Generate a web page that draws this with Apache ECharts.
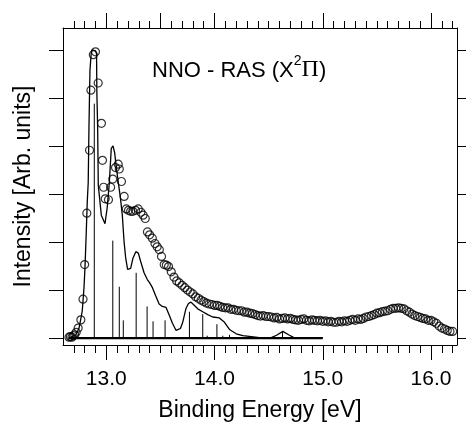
<!DOCTYPE html>
<html><head><meta charset="utf-8">
<script src="https://cdn.jsdelivr.net/npm/echarts@6/dist/echarts.min.js"></script>
<style>html,body{margin:0;padding:0;background:#fff}#c{width:466px;height:427px}</style>
</head><body><div id="c"></div>
<script>
// Experimental data (circles)
const expX = [12.655,12.668,12.682,12.695,12.708,12.722,12.740,12.765,12.785,12.800,12.820,12.845,12.858,12.880,12.900,12.925,12.955,12.965,12.975,12.990,13.020,13.040,13.060,13.085,13.110,13.120,13.140,13.165,13.185,13.205,13.225,13.245,13.270,13.295,13.320,13.340,13.360,13.380,13.400,13.425,13.450,13.470,13.490,13.510,13.535,13.555,
13.575,13.600,13.625,13.650,13.675,13.700,13.725,13.750,13.775,13.800,13.825,13.850,13.875,13.900,13.925,13.950,13.975,14.000,14.025,14.050,14.075,14.100,14.125,14.150,14.175,14.200,14.225,14.250,14.275,14.300,14.325,14.350,14.375,14.400,14.425,14.450,14.475,14.500,14.525,14.550,14.575,14.600,14.625,14.650,14.675,14.700,14.725,14.750,14.775,14.800,14.825,14.850,14.875,14.900,14.925,14.950,14.975,15.000,15.025,15.050,15.075,15.100,15.125,15.150,15.175,15.200,15.225,15.250,15.275,15.300,15.325,15.350,15.375,15.400,15.425,15.450,15.475,15.500,15.525,15.550,15.575,15.600,15.625,15.650,15.675,15.700,15.725,15.750,15.775,15.800,15.825,15.850,15.875,15.900,15.925,15.950,15.975,16.000,16.025,16.050,16.075,16.100,16.125,16.150,16.175,16.200];
const expY = [0.02,0.03,0.02,0.05,0.07,0.12,0.21,0.38,0.81,1.53,2.60,3.91,5.16,5.90,5.96,5.31,4.47,3.70,3.14,2.90,2.88,3.14,3.31,3.55,3.62,3.52,3.26,2.95,2.69,2.66,2.64,2.64,2.66,2.69,2.62,2.56,2.49,2.21,2.15,2.08,1.97,1.90,1.84,1.70,1.53,1.52,
1.49,1.38,1.27,1.19,1.15,1.10,1.05,1.00,0.96,0.92,0.86,0.83,0.79,0.76,0.73,0.71,0.70,0.68,0.68,0.66,0.64,0.63,0.63,0.60,0.60,0.58,0.57,0.57,0.54,0.54,0.52,0.51,0.49,0.47,0.46,0.47,0.45,0.45,0.44,0.42,0.43,0.40,0.41,0.42,0.40,0.41,0.39,0.38,0.37,0.39,0.40,0.37,0.36,0.38,0.37,0.36,0.37,0.35,0.36,0.34,0.35,0.33,0.33,0.35,0.34,0.36,0.35,0.37,0.39,0.37,0.40,0.39,0.41,0.44,0.45,0.47,0.49,0.52,0.53,0.55,0.56,0.57,0.60,0.62,0.62,0.63,0.62,0.61,0.57,0.54,0.50,0.47,0.45,0.43,0.41,0.40,0.37,0.37,0.34,0.31,0.25,0.21,0.19,0.16,0.14,0.14];

// Simulated spectrum (solid line)
const simX = [12.650,12.716,12.747,12.762,12.778,12.794,12.803,12.815,12.824,12.833,12.840,12.849,12.861,12.870,12.901,12.910,12.913,12.920,12.926,12.954,12.988,13.009,13.028,13.046,13.062,13.077,13.093,13.111,13.130,13.148,13.164,13.179,13.197,13.210,13.225,13.247,13.273,13.296,13.317,13.349,13.379,13.401,13.426,13.456,13.488,13.518,13.552,13.583,13.611,13.645,13.661,13.685,13.706,13.735,13.759,13.782,13.805,13.845,13.891,13.937,13.983,14.045,14.092,14.138,14.200,14.261,14.339,14.415,14.524,14.573,14.631,14.684,14.733,15.000];
const simY = [0.00,0.06,0.20,0.37,0.57,1.05,1.46,2.21,2.83,3.24,4.41,5.57,5.94,6.00,5.98,5.91,5.09,4.41,3.18,2.56,2.38,2.73,3.24,3.95,4.00,3.86,3.55,3.24,2.93,2.56,2.01,1.67,1.43,1.41,1.45,1.67,1.80,1.77,1.60,1.36,1.22,1.15,1.05,0.88,0.71,0.66,0.64,0.47,0.31,0.16,0.13,0.20,0.33,0.61,0.72,0.75,0.70,0.61,0.55,0.49,0.44,0.42,0.33,0.18,0.09,0.05,0.03,0.01,0.01,0.06,0.14,0.07,0.01,0.01];

// Stick spectrum
const stickX = [12.889,13.060,13.120,13.157,13.276,13.377,13.432,13.543,13.768,13.891,13.932,14.022,14.076,14.138,14.628];
const stickH = [4.88,2.03,1.07,0.37,1.36,0.66,0.35,0.37,0.55,0.50,0.05,0.29,0.05,0.07,0.14];
const baseX = [12.655,15.0];
const baseY = [0,0];

// Ticks
const xMajorBottom = [13,14,15,16];
const xMajorTop = [13,13.5,14,15,16];
const xMinor = [12.7,12.8,12.9,13.0,13.1,13.2,13.3,13.4,13.5,13.6,13.7,13.8,13.9,14.0,14.1,14.2,14.3,14.4,14.5,14.6,14.7,14.8,14.9,15.0,15.1,15.2,15.3,15.4,15.5,15.6,15.7,15.8,15.9,16.0,16.1,16.2];
const yTicks = [0,1,2,3,4,5,6];

const XMIN = 12.6, XMAX = 16.24, YMIN = -0.143, YMAX = 6.455;
const FONT = 'Liberation Sans, Arial, sans-serif';
const black = '#000';

function zip(a,b){return a.map((v,i)=>[v,b[i]]);}

function xAx(pos, ticks, len, showLine, labels){
  return {
    type:'value', position:pos, min:XMIN, max:XMAX, gridIndex:0,
    axisLine:{show:showLine, onZero:false, lineStyle:{color:black,width:1}},
    axisTick:{show:true, inside:false, length:len, customValues:ticks, lineStyle:{color:black,width:1}},
    axisLabel: labels ? {show:true, customValues:labels, formatter:v=>Number(v).toFixed(1), fontSize:21, fontFamily:FONT, color:black, margin:24} : {show:false},
    splitLine:{show:false}
  };
}
function yAx(pos, showName){
  const o = {
    type:'value', position:pos, min:YMIN, max:YMAX, gridIndex:0,
    axisLine:{show:true, onZero:false, lineStyle:{color:black,width:1}},
    axisTick:{show:true, inside:false, length:14, customValues:yTicks, lineStyle:{color:black,width:1}},
    axisLabel:{show:false}, splitLine:{show:false}
  };
  if(showName){
    o.name='Intensity [Arb. units]'; o.nameLocation='middle'; o.nameRotate=90; o.nameGap=28;
    o.nameTextStyle={fontSize:23, fontFamily:FONT, color:black};
  }
  return o;
}

const xBottom = xAx('bottom', xMajorBottom, 15, true, xMajorBottom);
xBottom.name = 'Binding Energy [eV]';
xBottom.nameLocation = 'middle';
xBottom.nameGap = 54;
xBottom.nameTextStyle = {fontSize:23, fontFamily:FONT, color:black};

const option = {
  animation:false,
  backgroundColor:'#fff',
  grid:{left:63, right:9, top:28, bottom:77, containLabel:false},
  title:{
    text:'{a|NNO - RAS (X}{s|2}{p|Π}{a|)}',
    left:147, top:49,
    textStyle:{fontWeight:'normal', rich:{
      a:{fontSize:22, fontFamily:FONT, fontWeight:'normal', color:black, lineHeight:28, verticalAlign:'bottom'},
      s:{fontSize:14, fontFamily:FONT, fontWeight:'normal', color:black, lineHeight:28, verticalAlign:'top'},
      p:{fontSize:24, fontFamily:'Liberation Serif, serif', fontWeight:'normal', color:black, lineHeight:28, verticalAlign:'bottom'}
    }}
  },
  xAxis:[
    xBottom,
    xAx('bottom', xMinor, 8, false, null),
    xAx('top', xMajorTop, 15, true, null),
    xAx('top', xMinor, 7, false, null)
  ],
  yAxis:[ yAx('left', true), yAx('right', false) ],
  series:[
    {type:'line', xAxisIndex:0, yAxisIndex:0, data:zip(baseX,baseY), showSymbol:false, symbol:'none',
     lineStyle:{color:black, width:2.2}, z:3},
    {type:'custom', xAxisIndex:0, yAxisIndex:0, data:zip(stickX,stickH), z:3,
     renderItem:function(params, api){
       const x = api.value(0), h = api.value(1);
       const p0 = api.coord([x,0]), p1 = api.coord([x,h]);
       return {type:'line', shape:{x1:p0[0],y1:p0[1],x2:p1[0],y2:p1[1]}, style:{stroke:black, lineWidth:1}};
     }},
    {type:'line', xAxisIndex:0, yAxisIndex:0, data:zip(simX,simY), showSymbol:false, symbol:'none',
     lineStyle:{color:black, width:1.3}, z:4},
    {type:'scatter', xAxisIndex:0, yAxisIndex:0, data:zip(expX,expY), symbol:'circle', symbolSize:8,
     itemStyle:{color:'rgba(0,0,0,0)', borderColor:black, borderWidth:1.2}, z:5}
  ]
};
const chart = echarts.init(document.getElementById('c'), null, {renderer:'canvas'});
chart.setOption(option);
</script></body></html>
